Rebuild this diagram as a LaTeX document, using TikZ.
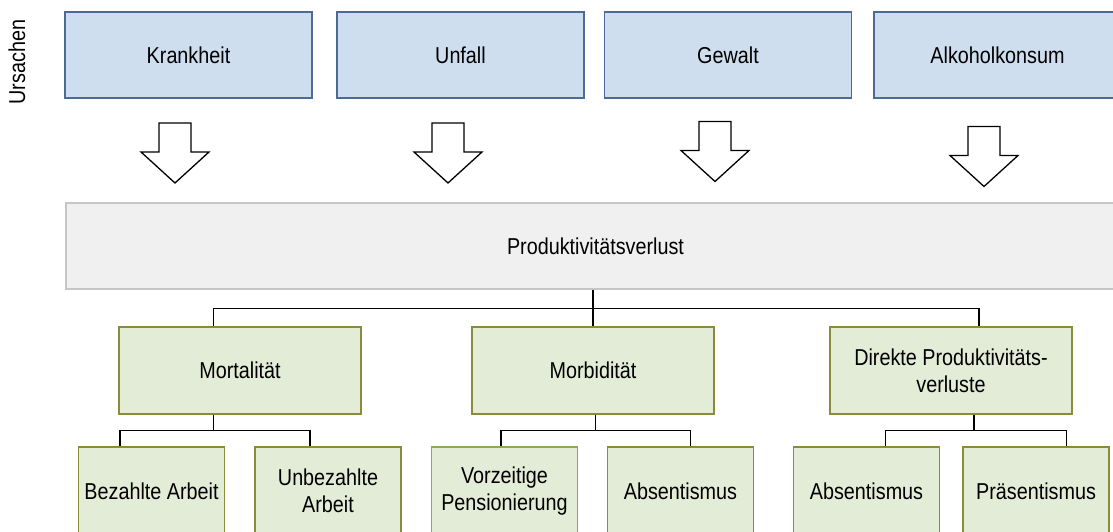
\documentclass[tikz,border=0pt]{standalone}
\usepackage{fontspec}
\setmainfont[FakeStretch=0.86]{Liberation Sans}
\usepackage{tikz}
\usetikzlibrary{calc}
\definecolor{causeblue}{RGB}{207,222,238}
\definecolor{causeedge}{RGB}{76,106,148}
\definecolor{lossgray}{RGB}{240,240,240}
\definecolor{lossedge}{RGB}{198,198,198}
\definecolor{effectgreen}{RGB}{227,236,215}
\definecolor{effectedge}{RGB}{138,140,58}
\definecolor{effectedgeb}{RGB}{140,170,90}
\tikzset{hollowarrow/.pic={
  \draw[line width=1.3pt, fill=white, line join=miter]
    (-16,30) -- (16,30) -- (16,1) -- (34,1) -- (0,-30) -- (-34,1) -- (-16,1) -- cycle;}}

\begin{document}
\begin{tikzpicture}[x=1pt, y=1pt,
    txt/.style={font=\fontsize{23}{27}\selectfont, align=center, inner sep=0pt},
    cause/.style={txt, draw=causeedge, fill=causeblue, line width=1.2pt,
                  minimum width=247pt, minimum height=86pt},
    loss/.style={txt, draw=lossedge, fill=lossgray, line width=1.5pt,
                 minimum width=1059pt, minimum height=86pt},
    effect/.style={txt, draw=effectedge, fill=effectgreen, line width=1.2pt,
                   minimum width=242pt, minimum height=87pt},
    detail/.style={effect, minimum width=146pt, minimum height=88pt},
    link/.style={line width=1.3pt}]
  \clip (0,0) rectangle (1113,532);

  % causes
  \node[txt, rotate=90] (ursachen) at (17,470) {Ursachen};
  \node[cause] (krank) at (188.5,477) {Krankheit};
  \node[cause] (unfall) at (460.5,477) {Unfall};
  \node[cause] (gewalt) at (728,477) {Gewalt};
  \node[cause] (alkohol) at (997.5,477) {Alkoholkonsum};

  \pic at (175,379) {hollowarrow};
  \pic at (448,379) {hollowarrow};
  \pic at (715,380.5) {hollowarrow};
  \pic at (984,375.5) {hollowarrow};

  \node[loss] (prod) at (595.5,286) {Produktivitätsverlust};

  % effects
  \node[effect] (mort) at (240,161.5) {Mortalität};
  \node[effect] (morb) at (593,161.5) {Morbidität};
  \node[effect] (direkt) at (951,161.5) {Direkte Produktivitäts-\\verluste};

  \node[detail] (bezahlt) at (151.5,41) {Bezahlte Arbeit};
  \node[detail] (unbezahlt) at (328,41) {Unbezahlte\\Arbeit};
  \node[detail, draw=effectedgeb] (vorzeit) at (504.5,41) {Vorzeitige\\Pensionierung};
  \node[detail] (absent) at (680.5,41) {Absentismus};
  \node[detail] (absentb) at (866.5,41) {Absentismus};
  \node[detail] (praesent) at (1036,41) {Präsentismus};

  % tap points on the boxes
  \coordinate (mortT) at ($(mort.north west)!0.39!(mort.north east)$);
  \coordinate (mortB) at ($(mort.south west)!0.39!(mort.south east)$);
  \coordinate (morbT) at (morb.north);
  \coordinate (morbB) at ($(morb.south west)!0.51!(morb.south east)$);
  \coordinate (direktT) at ($(direkt.north west)!0.615!(direkt.north east)$);
  \coordinate (direktB) at ($(direkt.south west)!0.595!(direkt.south east)$);
  \coordinate (bezahltT) at ($(bezahlt.north west)!0.286!(bezahlt.north east)$);
  \coordinate (unbezahltT) at ($(unbezahlt.north west)!0.377!(unbezahlt.north east)$);
  \coordinate (vorzeitT) at ($(vorzeit.north west)!0.476!(vorzeit.north east)$);
  \coordinate (absentT) at ($(absent.north west)!0.569!(absent.north east)$);
  \coordinate (absentbT) at ($(absentb.north west)!0.628!(absentb.north east)$);
  \coordinate (praesentT) at ($(praesent.north west)!0.705!(praesent.north east)$);

  % tree
  \draw[line width=2.6pt] (prod.south -| morbT) -- ++(0,-19) coordinate (bus);
  \draw[link] (bus) -- (morbT);
  \draw[link] (mortT) |- (bus) -| (direktT);

  \draw[link] (mortB) -- ++(0,-16) coordinate (mortJ);
  \draw[link] (bezahltT) |- (mortJ) -| (unbezahltT);
  \draw[link] (morbB) -- ++(0,-16) coordinate (morbJ);
  \draw[link] (vorzeitT) |- (morbJ) -| (absentT);
  \draw[link, line width=2pt] (direktB) -- ++(0,-16) coordinate (direktJ);
  \draw[link] (absentbT) |- (direktJ) -| (praesentT);
\end{tikzpicture}
\end{document}
